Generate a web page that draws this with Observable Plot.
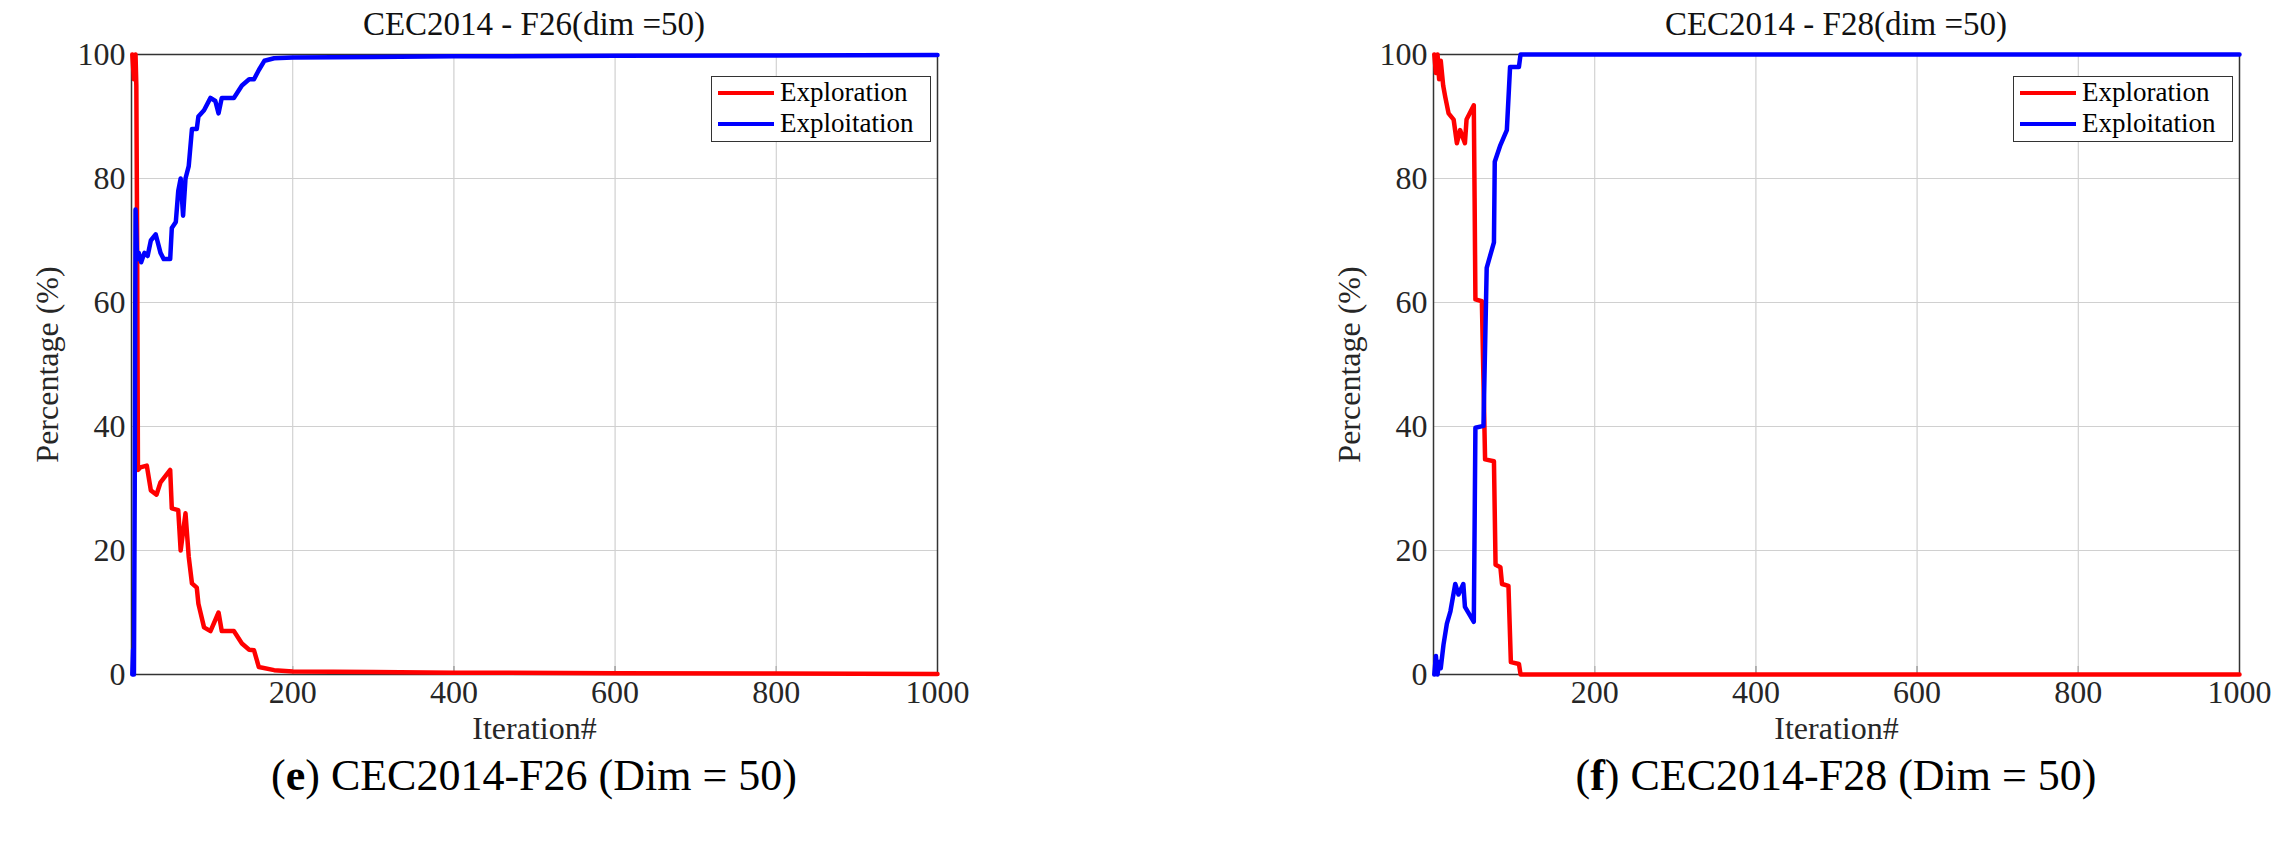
<!DOCTYPE html>
<html><head><meta charset="utf-8">
<script src="https://cdn.jsdelivr.net/npm/d3@7"></script>
<script src="https://cdn.jsdelivr.net/npm/@observablehq/plot@0.6"></script>
<style>
body{margin:0;background:#fff;font-family:"Liberation Serif",serif;}
#page{position:relative;width:2287px;height:855px;overflow:hidden;}
.panel{position:absolute;top:0;width:980px;}
.panel svg{max-width:none;}
.title{position:absolute;top:6px;font-size:33px;text-align:center;width:806px;color:#111;}
.cap{position:absolute;top:750px;font-size:44px;text-align:center;width:806px;}
.leg{position:absolute;top:76px;width:218px;height:64px;border:1.5px solid #333;background:#fff;font-size:27px;}
.leg div{display:flex;align-items:center;height:31px;}
.leg span.l{display:inline-block;width:56px;height:4px;margin:0 6px 0 6px;}
</style></head><body><div id="page"></div>
<script>
// F26 (left)
const f26ExplIter = [1,3,5,6,7,8,11,19,24,31,36,48,50,58,61,67,71,75,81,83,90,98,108,112,127,137,146,152,158,177,200,300,400,600,800,1000];
const f26ExplVal  = [100,96,100,95,70,33,33.4,33.7,29.7,29,31,33,26.8,26.5,20,26,19,14.7,14,11.4,7.6,7,10,7,7,5,4,3.9,1.2,0.7,0.5,0.4,0.3,0.2,0.15,0.1];
const f26ExpoIter = [1,2,3,4,5,7,9,12,16,20,24,30,36,40,48,50,55,58,61,64,67,71,75,81,83,90,98,104,108,112,120,127,137,146,152,158,165,177,200,300,400,600,800,1000];
const f26ExpoVal  = [0,4,0,30,75,67,68,66.5,68,67.5,70,71,68,67,67,72,73,78,80,74,80,82,88,88,90,91,93,92.5,90.5,93,93,93,95,96,96,97.5,99,99.4,99.5,99.6,99.7,99.8,99.85,99.9];
// F28 (right)
const f28ExplIter = [1,3,5,7,9,12,14.5,18.7,25,29,33,39,41,50,51,52,60,64,75,77,83,85,93,96,106,108,300,600,1000];
const f28ExplVal  = [100,97,100,96,99,95,93.2,90.5,89.5,85.7,87.8,85.7,89.5,91.8,76.9,60.5,60.2,34.7,34.4,17.7,17.3,14.6,14.3,2,1.7,0,0,0,0];
const f28ExpoIter = [1,3,5,7,9,12.4,16.6,21,27,31,37,39,50,51,52,62,66,75,76,83,91,95,106,108,300,600,1000];
const f28ExpoVal  = [0,3,0,2,1,4.8,8.2,10.2,14.6,12.9,14.6,10.9,8.5,23.8,39.8,40.1,65.6,69.7,82.7,85.4,87.8,98,98,100,100,100,100];

const panels = [
  {left:0, title:"CEC2014 - F26(dim =50)", capLetter:"e", capText:" CEC2014-F26 (Dim = 50)",
   series:[[f26ExplIter,f26ExplVal,"Exploration"],[f26ExpoIter,f26ExpoVal,"Exploitation"]]},
  {left:1302, title:"CEC2014 - F28(dim =50)", capLetter:"f", capText:" CEC2014-F28 (Dim = 50)",
   series:[[f28ExplIter,f28ExplVal,"Exploration"],[f28ExpoIter,f28ExpoVal,"Exploitation"]]}
];
const colors = {Exploration:"#ff0000", Exploitation:"#0000ff"};
const page = document.getElementById("page");
for (const p of panels) {
  const data = p.series.flatMap(([xs,ys,name]) => xs.map((x,i)=>({x, y: ys[i], name})));
  const chart = Plot.plot({
    width:980, height:770, marginLeft:131, marginRight:43, marginTop:54, marginBottom:96,
    style:{fontFamily:"Liberation Serif", fontSize:"32px", color:"#262626", overflow:"visible"},
    x:{domain:[0,1000], ticks:[200,400,600,800,1000], grid:true},
    y:{domain:[0,100], ticks:[0,20,40,60,80,100], grid:true},
    marks:[
      Plot.axisX({ticks:[200,400,600,800,1000], tickSize:-8, tickPadding:14, fontSize:32, label:"Iteration#", labelAnchor:"center", labelArrow:"none", labelOffset:64, tickFormat:d=>String(d)}),
      Plot.axisY({ticks:[0,20,40,60,80,100], tickSize:-8, tickPadding:14, fontSize:32, label:"Percentage (%)", labelAnchor:"center", labelArrow:"none", labelOffset:96}),
      Plot.gridX([200,400,600,800,1000],{stroke:"#d0d0d0", strokeOpacity:1}),
      Plot.gridY([20,40,60,80],{stroke:"#d0d0d0", strokeOpacity:1}),
      Plot.frame({stroke:"#333", strokeWidth:1.5}),
      Plot.line(data,{x:"x", y:"y", z:"name", stroke:d=>colors[d.name], strokeWidth:4.5, curve:"linear"})
    ]
  });
  const div = document.createElement("div");
  div.className="panel"; div.style.left=p.left+"px";
  div.appendChild(chart);
  page.appendChild(div);
  const t = document.createElement("div"); t.className="title"; t.style.left=(p.left+131)+"px"; t.textContent=p.title; page.appendChild(t);
  const c = document.createElement("div"); c.className="cap"; c.style.left=(p.left+131)+"px";
  c.innerHTML = "(<b>"+p.capLetter+"</b>)"+p.capText; page.appendChild(c);
  const lg = document.createElement("div"); lg.className="leg"; lg.style.left=(p.left+131+806-226)+"px";
  lg.innerHTML = p.series.map(s=>`<div><span class="l" style="background:${colors[s[2]]}"></span>${s[2]}</div>`).join("");
  page.appendChild(lg);
}
</script></body></html>
